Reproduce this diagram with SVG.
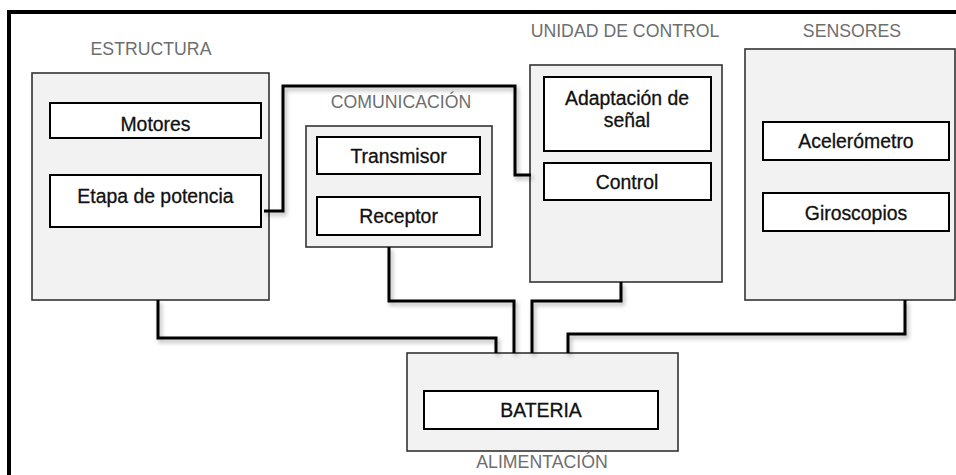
<svg xmlns="http://www.w3.org/2000/svg" width="956" height="475" viewBox="0 0 956 475">
<defs>
<filter id="sh" x="-10%" y="-10%" width="130%" height="130%">
<feDropShadow dx="2" dy="3" stdDeviation="2" flood-color="#000" flood-opacity="0.3"/>
</filter>
<style>
.grp{fill:#f2f2f2;stroke:#333;stroke-width:1.6}
.box{fill:#fff;stroke:#000;stroke-width:2}
.lbl{font-family:"Liberation Sans",Arial,sans-serif;font-size:17.7px;fill:#6e6e6e;text-anchor:middle}
.txt{font-family:"Liberation Sans",Arial,sans-serif;font-size:19.4px;fill:#111;stroke:#111;stroke-width:0.3;text-anchor:middle}
.con{fill:none;stroke:#000;stroke-width:3;filter:url(#sh)}
</style>
</defs>
<rect width="956" height="475" fill="#fff"/>
<rect x="9" y="12" width="1000" height="1000" fill="none" stroke="#000" stroke-width="4"/>

<g id="estructura">
<text class="lbl" x="151" y="55">ESTRUCTURA</text>
<rect class="grp" x="32" y="73" width="237" height="227"/>
</g>
<g id="comunicacion">
<text class="lbl" x="401" y="108">COMUNICACIÓN</text>
<rect class="grp" x="306" y="126" width="186" height="121"/>
</g>
<g id="unidad">
<text class="lbl" x="625" y="37">UNIDAD DE CONTROL</text>
<rect class="grp" x="530" y="65" width="192" height="217"/>
</g>
<g id="sensores">
<text class="lbl" x="852" y="37">SENSORES</text>
<rect class="grp" x="745" y="49" width="210" height="251"/>
</g>
<g id="alimentacion">
<rect class="grp" x="407" y="353" width="271" height="98"/>
<text class="lbl" x="542" y="468">ALIMENTACIÓN</text>
</g>

<g id="connectors">
<path class="con" d="M158,138 V175"/>
<path class="con" d="M264,211 H283 V86 H515 V175 H531"/>
<path class="con" d="M495,193 H531"/>
<path class="con" d="M625,151 V163"/>
<path class="con" d="M711,140 H745"/>
<path class="con" d="M158,300 V338 H496 V353"/>
<path class="con" d="M389,247 V301 H514 V353"/>
<path class="con" d="M621,282 V301 H532 V353"/>
<path class="con" d="M905,300 V334 H568 V353"/>
</g>

<g id="motores"><rect class="box" x="50" y="103" width="211" height="35"/><text class="txt" x="155.5" y="130.5">Motores</text></g>
<g id="etapa"><rect class="box" x="50" y="175" width="211" height="52"/><text class="txt" x="155.5" y="203">Etapa de potencia</text></g>
<g id="transmisor"><rect class="box" x="317" y="137" width="163" height="37"/><text class="txt" x="398.5" y="163">Transmisor</text></g>
<g id="receptor"><rect class="box" x="317" y="197" width="163" height="38"/><text class="txt" x="398.5" y="223">Receptor</text></g>
<g id="adaptacion"><rect class="box" x="544" y="77" width="167" height="74"/><text class="txt" x="627" y="105">Adaptación de</text><text class="txt" x="627" y="127">señal</text></g>
<g id="control"><rect class="box" x="544" y="163" width="167" height="37"/><text class="txt" x="627" y="189">Control</text></g>
<g id="acelerometro"><rect class="box" x="763" y="122" width="186" height="38"/><text class="txt" x="856" y="148">Acelerómetro</text></g>
<g id="giroscopios"><rect class="box" x="763" y="193" width="186" height="38"/><text class="txt" x="856" y="220">Giroscopios</text></g>
<g id="bateria"><rect class="box" x="424" y="391" width="234" height="38"/><text class="txt" x="541" y="417">BATERIA</text></g>
</svg>
